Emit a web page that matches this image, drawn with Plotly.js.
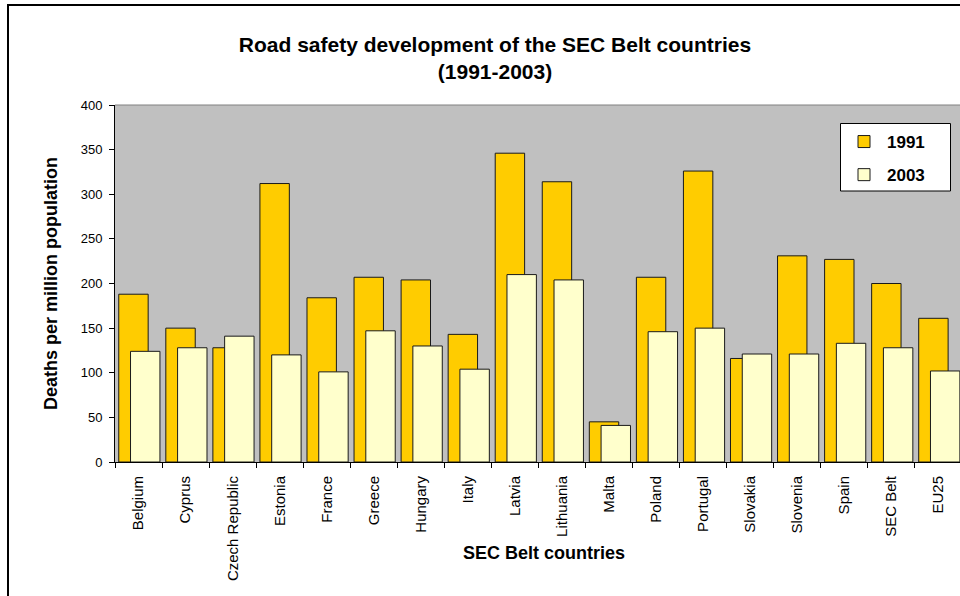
<!DOCTYPE html>
<html>
<head>
<meta charset="utf-8">
<script src="https://cdn.plot.ly/plotly-3.0.1.min.js"></script>
<style>
  html, body { margin: 0; padding: 0; background: #fff; overflow: hidden; }
  #wrap { position: relative; width: 960px; height: 596px; overflow: hidden; }
  #chart { position: absolute; left: 0; top: 0; }
  #frame {
    position: absolute; left: 7px; top: 4px; width: 1000px; height: 700px;
    border: 2px solid #000; pointer-events: none; box-sizing: border-box;
  }
</style>
</head>
<body>
<div id="wrap">
  <div id="chart"></div>
  <div id="frame"></div>
</div>
<script>
// Road deaths per million population, 1991 vs 2003
const countries = ["Belgium", "Cyprus", "Czech Republic", "Estonia", "France", "Greece",
  "Hungary", "Italy", "Latvia", "Lithuania", "Malta", "Poland", "Portugal",
  "Slovakia", "Slovenia", "Spain", "SEC Belt", "EU25"];
const deaths1991 = [188, 150, 128, 312, 184, 207, 204, 143, 346, 314, 45, 207, 326, 116, 231, 227, 200, 161];
const deaths2003 = [124, 128, 141, 120, 101, 147, 130, 104, 210, 204, 41, 146, 150, 121, 121, 133, 128, 102];
const seriesNames = ["1991", "2003"];
const yTicks = [0, 50, 100, 150, 200, 250, 300, 350, 400];

const FONT = 'Arial, "Liberation Sans", sans-serif';
const outline = { color: '#1a1a1a', width: 1 };

// plot area in pixels: x 115..962, y 105..462
const PX = { left: 115, width: 847, top: 105, height: 357 };
const toPaperX = px => (px - PX.left) / PX.width;
const toPaperY = py => (PX.top + PX.height - py) / PX.height;

const traces = [
  {
    type: 'bar', name: seriesNames[0], x: countries, y: deaths1991,
    offset: -0.42, width: 0.625, legendgroup: 'a',
    marker: { color: '#FFCC00', line: outline },
    hoverinfo: 'x+y+name'
  },
  {
    type: 'bar', name: seriesNames[1], x: countries, y: deaths2003,
    offset: -0.17, width: 0.625, legendgroup: 'b',
    marker: { color: '#FFFFCC', line: outline },
    hoverinfo: 'x+y+name'
  }
];

const layout = {
  width: 990, height: 596,
  margin: { l: 115, r: 28, t: 105, b: 134, autoexpand: false },
  paper_bgcolor: '#ffffff',
  plot_bgcolor: '#C0C0C0',
  barmode: 'overlay',
  font: { family: FONT, color: '#000' },
  title: {
    text: '<b>Road safety development of the SEC Belt countries<br>(1991-2003)</b>',
    font: { family: FONT, size: 21, color: '#000' },
    xref: 'container', x: 0.5, xanchor: 'center',
    yref: 'container', y: 1 - 52 / 596, yanchor: 'middle'
  },
  xaxis: {
    type: 'category',
    range: [-0.5, countries.length - 0.5],
    tickangle: -90,
    tickson: 'boundaries',
    ticks: 'outside', ticklen: 5, tickcolor: '#000', tickwidth: 1,
    ticklabelstandoff: 7,
    showline: true, linecolor: '#000', linewidth: 1,
    showgrid: false, zeroline: false,
    tickfont: { family: FONT, size: 15, color: '#000' },
    automargin: false
  },
  yaxis: {
    range: [0, 400],
    tickvals: yTicks,
    ticktext: yTicks.map(String),
    ticks: 'outside', ticklen: 5, tickcolor: '#000', tickwidth: 1,
    ticklabelstandoff: 4,
    showline: true, linecolor: '#000', linewidth: 1,
    showgrid: false, zeroline: false,
    tickfont: { family: FONT, size: 13, color: '#000' },
    title: {
      text: '<b>Deaths per million population</b>',
      font: { family: FONT, size: 18, color: '#000' },
      standoff: 18
    },
    automargin: false
  },
  annotations: [
    {
      text: '<b>SEC Belt countries</b>',
      xref: 'paper', yref: 'paper',
      x: toPaperX(544), y: toPaperY(553),
      xanchor: 'center', yanchor: 'middle', showarrow: false,
      font: { family: FONT, size: 18, color: '#000' }
    }
  ],
  showlegend: true,
  legend: {
    x: toPaperX(841), xanchor: 'left',
    y: toPaperY(124), yanchor: 'top',
    bgcolor: 'rgba(0,0,0,0)', borderwidth: 0,
    font: { family: FONT, size: 17, color: '#000', weight: 'bold' },
    itemwidth: 36,
    traceorder: 'grouped', tracegroupgap: 8,
    itemclick: false, itemdoubleclick: false
  },
  shapes: [
    // top edge of the plot area
    { type: 'line', xref: 'paper', yref: 'paper', x0: 0, x1: 1, y0: 1, y1: 1,
      line: { color: '#808080', width: 1 } },
    // white box framing the legend
    { type: 'rect', xref: 'paper', yref: 'paper', layer: 'above',
      x0: toPaperX(840.5), x1: toPaperX(950.5), y0: toPaperY(191), y1: toPaperY(123.5),
      fillcolor: '#ffffff', line: { color: '#000', width: 1 } }
  ]
};

Plotly.newPlot('chart', traces, layout, { displayModeBar: false });
</script>
</body>
</html>
